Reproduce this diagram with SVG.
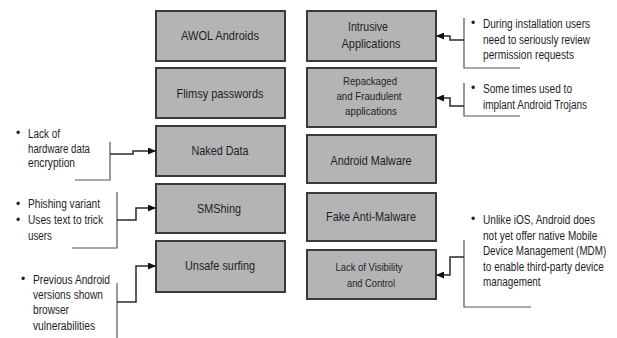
<svg xmlns="http://www.w3.org/2000/svg" width="617" height="338" viewBox="0 0 617 338">
<defs>
<style>
.box{fill:#b4b4b4;stroke:#3a3a3a;stroke-width:2}
.lbl{font-family:"Liberation Sans Narrow","Liberation Sans",Arial,sans-serif;font-size:13px;fill:#1e1e2a;text-anchor:middle}
.sm{font-size:11px}
.note{font-family:"Liberation Sans Narrow","Liberation Sans",Arial,sans-serif;font-size:12px;fill:#1e1e2a}
.con{fill:none;stroke:#2a2a2a;stroke-width:1.5}
.brk{fill:none;stroke:#555;stroke-width:1.2}
</style>
<marker id="ah" viewBox="0 0 8 7" refX="8" refY="3.5" markerWidth="8" markerHeight="7" markerUnits="userSpaceOnUse" orient="auto">
<path d="M0,0 L8,3.5 L0,7 z" fill="#111"/>
</marker>
</defs>
<rect width="617" height="338" fill="#fff"/>

<g id="awol"><rect class="box" x="156" y="11" width="129" height="50"/><text class="lbl" x="220" y="40" textLength="78" lengthAdjust="spacingAndGlyphs">AWOL Androids</text></g>
<g id="flimsy"><rect class="box" x="156" y="68" width="129" height="50"/><text class="lbl" x="220" y="98" textLength="87" lengthAdjust="spacingAndGlyphs">Flimsy passwords</text></g>
<g id="naked"><rect class="box" x="156" y="126" width="129" height="50"/><text class="lbl" x="220" y="155" textLength="57" lengthAdjust="spacingAndGlyphs">Naked Data</text></g>
<g id="smshing"><rect class="box" x="156" y="184" width="129" height="49"/><text class="lbl" x="219" y="213" textLength="44" lengthAdjust="spacingAndGlyphs">SMShing</text></g>
<g id="unsafe"><rect class="box" x="156" y="241" width="129" height="51"/><text class="lbl" x="220" y="270" textLength="70" lengthAdjust="spacingAndGlyphs">Unsafe surfing</text></g>

<g id="intrusive"><rect class="box" x="307" y="11" width="129" height="50"/><text class="lbl" x="368" y="31" textLength="40" lengthAdjust="spacingAndGlyphs">Intrusive</text><text class="lbl" x="371" y="48" textLength="59" lengthAdjust="spacingAndGlyphs">Applications</text></g>
<g id="repackaged"><rect class="box" x="307" y="68" width="129" height="59"/><text class="lbl sm" x="370" y="85" textLength="54" lengthAdjust="spacingAndGlyphs">Repackaged</text><text class="lbl sm" x="369" y="100" textLength="65" lengthAdjust="spacingAndGlyphs">and Fraudulent</text><text class="lbl sm" x="371" y="115" textLength="52" lengthAdjust="spacingAndGlyphs">applications</text></g>
<g id="malware"><rect class="box" x="307" y="135" width="129" height="48"/><text class="lbl" x="371" y="165" textLength="81" lengthAdjust="spacingAndGlyphs">Android Malware</text></g>
<g id="fake"><rect class="box" x="307" y="193" width="129" height="48"/><text class="lbl" x="371" y="221" textLength="90" lengthAdjust="spacingAndGlyphs">Fake Anti-Malware</text></g>
<g id="visibility"><rect class="box" x="307" y="250" width="129" height="49"/><text class="lbl sm" x="369" y="271" textLength="67" lengthAdjust="spacingAndGlyphs">Lack of Visibility</text><text class="lbl sm" x="371" y="287" textLength="48" lengthAdjust="spacingAndGlyphs">and Control</text></g>

<g id="note-naked">
<text class="note" x="16" y="137">•</text>
<text class="note" x="28" y="138" textLength="32" lengthAdjust="spacingAndGlyphs">Lack of</text>
<text class="note" x="28" y="153" textLength="62" lengthAdjust="spacingAndGlyphs">hardware data</text>
<text class="note" x="28" y="167" textLength="47" lengthAdjust="spacingAndGlyphs">encryption</text>
</g>
<g id="note-smshing">
<text class="note" x="16" y="208">•</text>
<text class="note" x="28" y="208" textLength="72" lengthAdjust="spacingAndGlyphs">Phishing variant</text>
<text class="note" x="16" y="224">•</text>
<text class="note" x="28" y="224" textLength="75" lengthAdjust="spacingAndGlyphs">Uses text to trick</text>
<text class="note" x="28" y="240" textLength="24" lengthAdjust="spacingAndGlyphs">users</text>
</g>
<g id="note-unsafe">
<text class="note" x="21" y="283">•</text>
<text class="note" x="33" y="284" textLength="77" lengthAdjust="spacingAndGlyphs">Previous Android</text>
<text class="note" x="33" y="299" textLength="70" lengthAdjust="spacingAndGlyphs">versions shown</text>
<text class="note" x="33" y="314" textLength="36" lengthAdjust="spacingAndGlyphs">browser</text>
<text class="note" x="33" y="330" textLength="62" lengthAdjust="spacingAndGlyphs">vulnerabilities</text>
</g>
<g id="note-intrusive">
<text class="note" x="471" y="27">•</text>
<text class="note" x="483" y="28" textLength="107" lengthAdjust="spacingAndGlyphs">During installation users</text>
<text class="note" x="483" y="44" textLength="107" lengthAdjust="spacingAndGlyphs">need to seriously review</text>
<text class="note" x="483" y="59" textLength="91" lengthAdjust="spacingAndGlyphs">permission requests</text>
</g>
<g id="note-repackaged">
<text class="note" x="471" y="92">•</text>
<text class="note" x="483" y="93" textLength="89" lengthAdjust="spacingAndGlyphs">Some times used to</text>
<text class="note" x="483" y="109" textLength="104" lengthAdjust="spacingAndGlyphs">implant Android Trojans</text>
</g>
<g id="note-visibility">
<text class="note" x="471" y="223">•</text>
<g transform="translate(483,0) scale(0.8,1)">
<text class="note" x="0" y="224" textLength="140" lengthAdjust="spacingAndGlyphs">Unlike iOS, Android does</text>
<text class="note" x="0" y="240" textLength="143" lengthAdjust="spacingAndGlyphs">not yet offer native Mobile</text>
<text class="note" x="0" y="255" textLength="154" lengthAdjust="spacingAndGlyphs">Device Management (MDM)</text>
<text class="note" x="0" y="271" textLength="151" lengthAdjust="spacingAndGlyphs">to enable third-party device</text>
<text class="note" x="0" y="286" textLength="72" lengthAdjust="spacingAndGlyphs">management</text>
</g>
</g>

<g id="connectors">
<path class="brk" d="M75,180 H110 V142"/>
<path class="brk" d="M72,248 H117 V192"/>
<path class="brk" d="M117,283 V338"/>
<path class="brk" d="M464,18 V68 H520"/>
<path class="brk" d="M464,83 V116 H520"/>
<path class="brk" d="M464,240 V307 H531"/>
<path class="con" marker-end="url(#ah)" d="M110,154 H133 V151 H156"/>
<path class="con" marker-end="url(#ah)" d="M117,220 H136 V208 H156"/>
<path class="con" marker-end="url(#ah)" d="M117,302 H136 V266 H156"/>
<path class="con" marker-end="url(#ah)" d="M464,40 H450 V36 H436"/>
<path class="con" marker-end="url(#ah)" d="M464,106 H450 V98 H436"/>
<path class="con" marker-end="url(#ah)" d="M464,257 H450 V275 H436"/>
</g>
</svg>
